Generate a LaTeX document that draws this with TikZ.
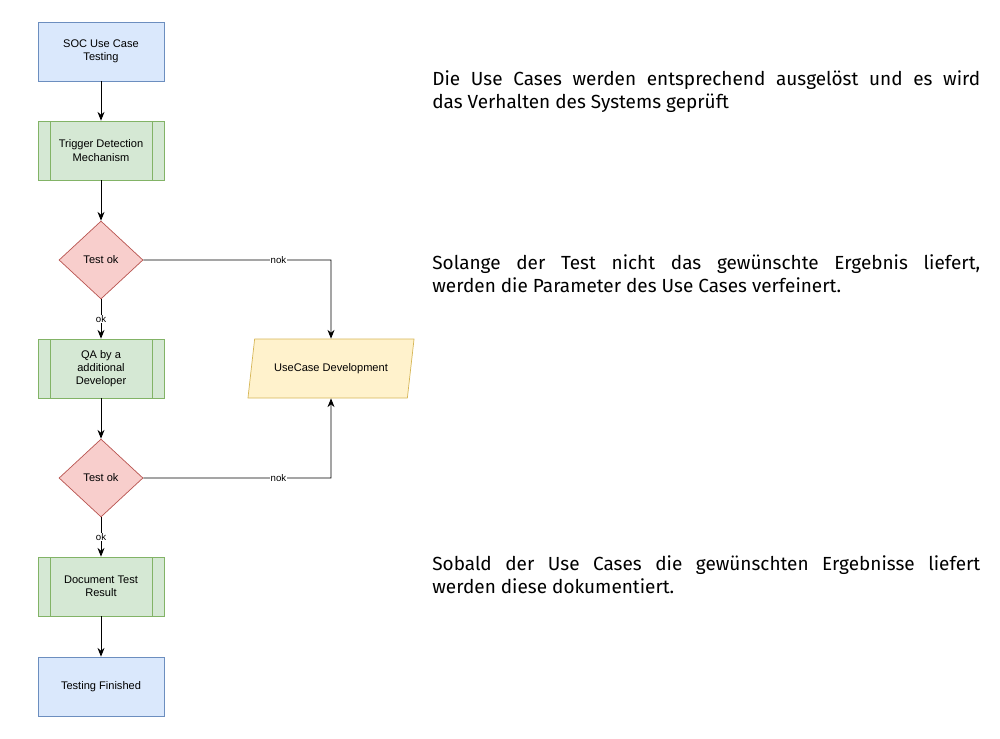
\documentclass[tikz,border=0pt]{standalone}
\usepackage{fontspec}
\setmainfont{Liberation Sans}
\newfontfamily\notefont{Fira Sans}
\usetikzlibrary{shapes.geometric,arrows.meta,positioning}
\definecolor{bluefill}{HTML}{DAE8FC}\definecolor{blueline}{HTML}{6C8EBF}
\definecolor{greenfill}{HTML}{D5E8D4}\definecolor{greenline}{HTML}{82B366}
\definecolor{redfill}{HTML}{F8CECC}\definecolor{redline}{HTML}{B85450}
\definecolor{yellowfill}{HTML}{FFF2CC}\definecolor{yellowline}{HTML}{D6B656}
\tikzset{
  every node/.style={font=\fontsize{6.3}{7.6}\selectfont},
  termbox/.style={rectangle,draw=blueline,fill=bluefill,minimum width=2.52cm,minimum height=1.18cm,align=center},
  procbox/.style={rectangle,draw=greenline,fill=greenfill,minimum width=2.52cm,minimum height=1.18cm,align=center,
    path picture={\draw[greenline] ([xshift=0.24cm]path picture bounding box.north west) -- ([xshift=0.24cm]path picture bounding box.south west)
        ([xshift=-0.24cm]path picture bounding box.north east) -- ([xshift=-0.24cm]path picture bounding box.south east);}},
  decision/.style={diamond,draw=redline,fill=redfill,minimum width=1.68cm,minimum height=1.56cm,inner sep=0pt,aspect=1.08},
  databox/.style={trapezium,trapezium left angle=76,trapezium right angle=104,trapezium stretches=true,draw=yellowline,fill=yellowfill,minimum width=3.34cm,minimum height=1.18cm},
  flow/.style={-{Stealth[length=5pt,width=4pt]},line width=0.5pt},
  edgelabel/.style={fill=white,inner sep=0.5pt,font=\fontsize{5.5}{6}\selectfont},
  note/.style={anchor=north west,inner sep=0pt,text width=10.96cm,align=justify,font=\notefont\fontsize{10.8}{13.5}\selectfont}
}
\begin{document}
\begin{tikzpicture}[x=0.02cm,y=-0.02cm]
\useasboundingbox (0,0) rectangle (1000,738);
\node (soc) [termbox] at (101,51.5) {SOC Use Case\\Testing};
\node (trigger) [procbox] at (101,150.5) {Trigger Detection\\Mechanism};
\node (test1) [decision] at (101,260) {Test ok};
\node (qa) [procbox] at (101,368.5) {QA by a\\additional\\Developer};
\node (test2) [decision] at (101,478) {Test ok};
\node (doc) [procbox] at (101,586.5) {Document Test\\Result};
\node (done) [termbox] at (101,686.5) {Testing Finished};
\node (dev) [databox] at (331,368.5) {UseCase Development};
\coordinate (c1) at (331,260);
\coordinate (c2) at (331,478);
% main flow
\draw[flow] (soc) -- (trigger);
\draw[flow] (trigger) -- (test1);
\draw[flow] (test1) -- node[edgelabel]{ok} (qa);
\draw[flow] (qa) -- (test2);
\draw[flow] (test2) -- node[edgelabel]{ok} (doc);
\draw[flow] (doc) -- (done);
% loops back
\draw[flow] (test1.east) -- node[edgelabel,pos=0.72]{nok} (c1) -- (dev.north);
\draw[flow] (test2.east) -- node[edgelabel,pos=0.72]{nok} (c2) -- (dev.south);
% notes
\node (note1) [note] at (432,70) {Die Use Cases werden entsprechend ausgelöst und es wird\linebreak das Verhalten des Systems geprüft};
\node (note2) [note] at (432,254) {Solange der Test nicht das gewünschte Ergebnis liefert,\linebreak werden die Parameter des Use Cases verfeinert.};
\node (note3) [note] at (432,555) {Sobald der Use Cases die gewünschten Ergebnisse liefert\linebreak werden diese dokumentiert.};
\end{tikzpicture}
\end{document}
